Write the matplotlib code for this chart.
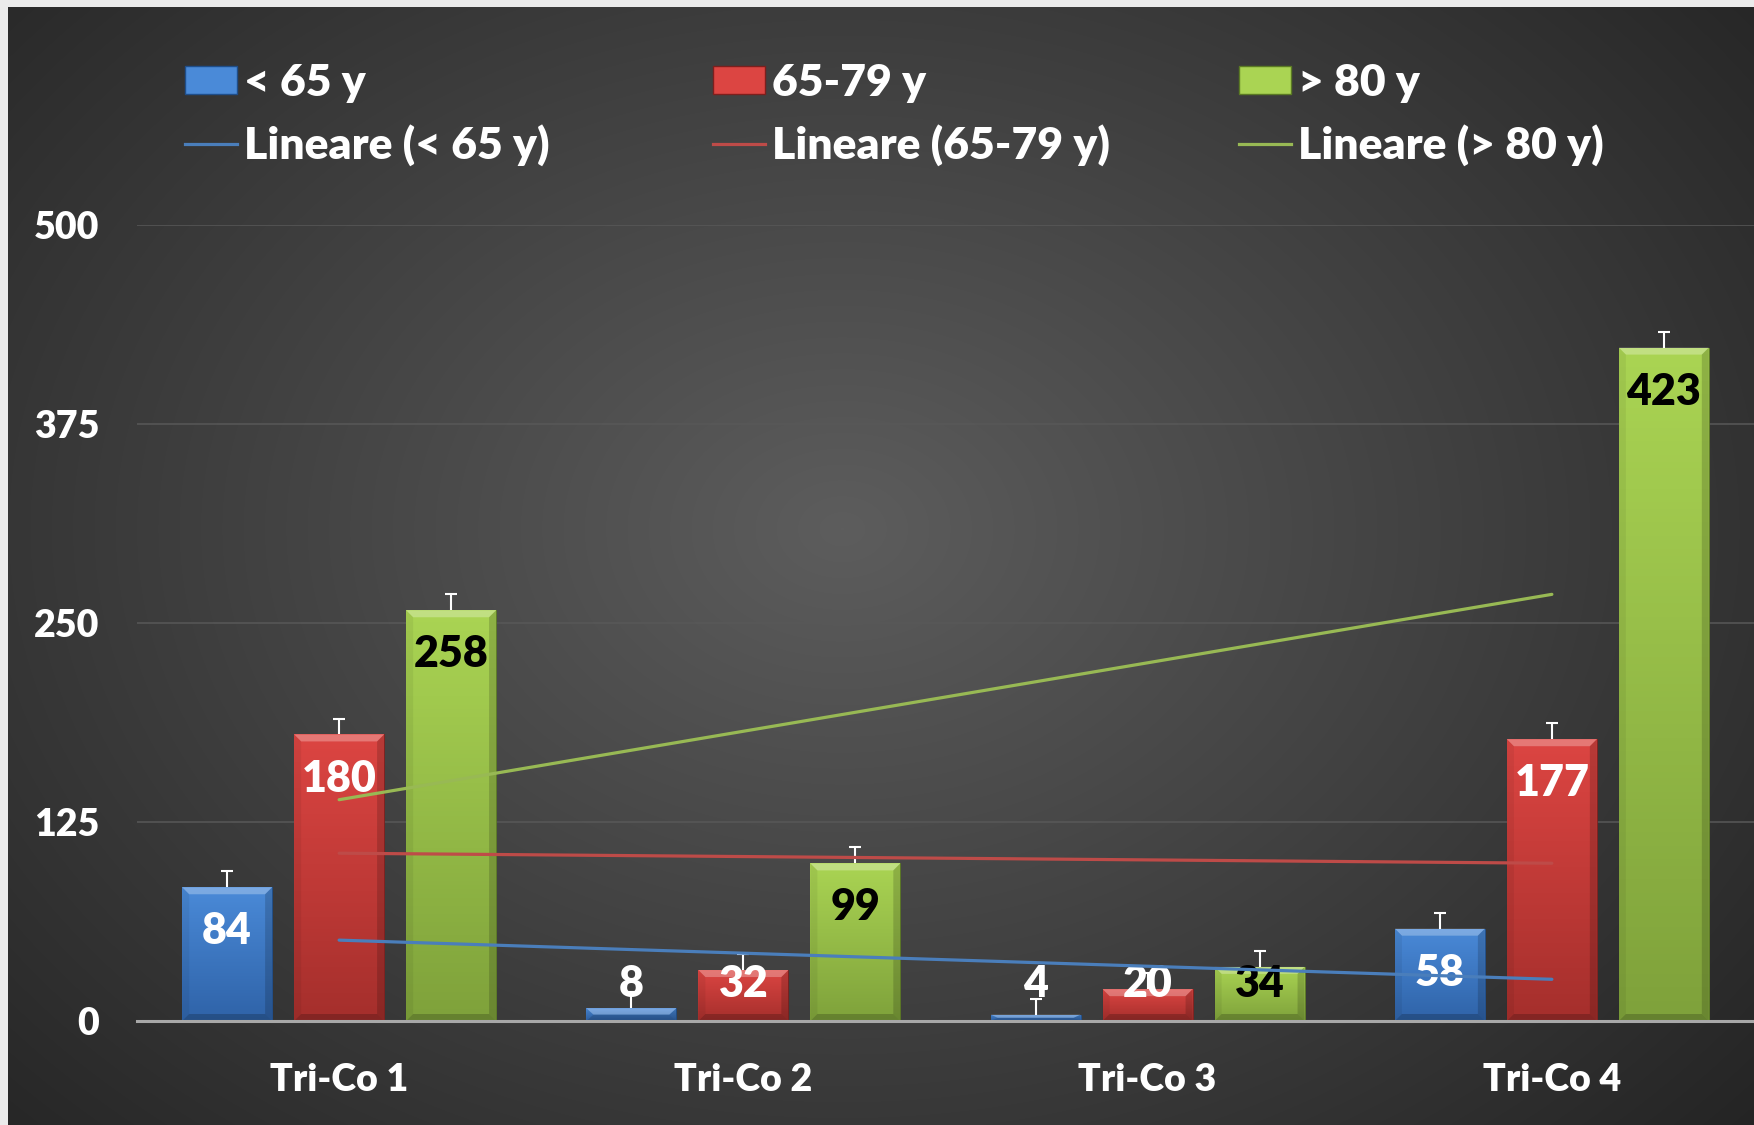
import numpy as np
import matplotlib
matplotlib.use("Agg")
import matplotlib.pyplot as plt
from matplotlib.patches import Patch, Polygon
from matplotlib.lines import Line2D
from matplotlib.colors import LinearSegmentedColormap

plt.rcParams["font.family"] = ["Lato", "DejaVu Sans"]
plt.rcParams["font.weight"] = "bold"

categories = ["Tri-Co 1", "Tri-Co 2", "Tri-Co 3", "Tri-Co 4"]
series_names = ["< 65 y", "65-79 y", "> 80 y"]
under_65 = [84, 8, 4, 58]
age_65_79 = [180, 32, 20, 177]
over_80 = [258, 99, 34, 423]
err_under_65 = [10, 10, 10, 10]
err_65_79 = [10, 10, 10, 10]
err_over_80 = [10, 10, 10, 10]
yticks = [0, 125, 250, 375, 500]

values = [under_65, age_65_79, over_80]
errors = [err_under_65, err_65_79, err_over_80]
top_cols = ["#4a8ad8", "#dc4542", "#aad453"]
bot_cols = ["#2f63a8", "#a52f2c", "#7fa23b"]
line_cols = ["#4a7ebb", "#be4b48", "#98b954"]
edge_cols = ["#1f4e8a", "#7d1f1d", "#5b7a24"]
label_cols = ["white", "white", "black"]

W, H = 1754, 1125
fig = plt.figure(figsize=(W / 100, H / 100), dpi=100)

# dark radial backdrop with the light page edge on the left and top
bg = fig.add_axes([0, 0, 1, 1], zorder=-10)
bg.axis("off")
yy, xx = np.mgrid[0:H, 0:W]
r = np.sqrt(((xx / W - 0.48) / 0.62) ** 2 + ((yy / H - 0.47) / 0.72) ** 2)
g = np.clip(0.365 - 0.2 * r, 0.145, 1)
img = np.dstack([g, g, g])
img[:, :8] = 0.925
img[:7, :] = 0.925
bg.imshow(img, extent=[0, 1, 0, 1], aspect="auto", interpolation="bilinear")
bg.set_xlim(0, 1)
bg.set_ylim(0, 1)

ax = fig.add_axes([137 / W, 104 / H, 1 - 137 / W, (1021 - 225) / H])
ax.set_facecolor("none")
ax.set_xlim(0.5, 4.5)
ax.set_ylim(0, 500)

x = np.arange(1, len(categories) + 1)
width = 0.2225
offsets = [-0.277, 0, 0.277]

px_x = ax.bbox.width / 4.0
px_y = ax.bbox.height / 500.0
bx, by = 7 / px_x, 7 / px_y

for i in range(3):
    bars = ax.bar(x + offsets[i], values[i], width, color=top_cols[i], zorder=2,
                  edgecolor=edge_cols[i], linewidth=0.6)
    cmap = LinearSegmentedColormap.from_list("b%d" % i, [bot_cols[i], top_cols[i]])
    for rect in bars:
        x0, w, h = rect.get_x(), rect.get_width(), rect.get_height()
        x1 = x0 + w
        grad = np.linspace(0, 1, 100).reshape(-1, 1)
        im = ax.imshow(grad, cmap=cmap, extent=[x0, x1, 0, h], origin="lower",
                       aspect="auto", zorder=2.1)
        im.set_clip_path(rect)
        b = min(by, h / 2)
        bev = [
            ([(x0, h), (x1, h), (x1 - bx, h - b), (x0 + bx, h - b)], "white", 0.28),
            ([(x0, 0), (x1, 0), (x1 - bx, b), (x0 + bx, b)], "black", 0.2),
            ([(x0, 0), (x0 + bx, b), (x0 + bx, h - b), (x0, h)], "black", 0.06),
            ([(x1, 0), (x1 - bx, b), (x1 - bx, h - b), (x1, h)], "black", 0.16),
        ]
        for pts, c, a in bev:
            ax.add_patch(Polygon(pts, closed=True, facecolor=c, alpha=a,
                                 edgecolor="none", zorder=2.2))
    eb = ax.errorbar(x + offsets[i], values[i], yerr=[np.zeros(4), errors[i]], fmt="none",
                     ecolor="white", elinewidth=1.5, capsize=4.5, capthick=1.5, zorder=2.5)
    # only the upper whisker carries a cap
    eb[1][0].set_visible(False)
    for xi, v in zip(x + offsets[i], values[i]):
        ax.text(xi, max(v - 27.7, 23.2), str(v), ha="center", va="center",
                color=label_cols[i], fontsize=31, fontweight="heavy", zorder=3)

# linear trend of each age group across the four groups
for i in range(3):
    coef = np.polyfit(x, values[i], 1)
    ax.plot(x, np.polyval(coef, x), color=line_cols[i], lw=2.3, zorder=4,
            solid_capstyle="round")

ax.set_yticks(yticks)
ax.set_xticks(x)
ax.set_xticklabels(categories)
ax.tick_params(axis="both", length=0, colors="white", labelsize=27)
ax.tick_params(axis="y", pad=27)
ax.tick_params(axis="x", pad=30)
for lab in ax.get_xticklabels() + ax.get_yticklabels():
    lab.set_fontweight("heavy")
ax.grid(axis="y", color="#585858", lw=1.1)
ax.set_axisbelow(True)
for s in ["left", "right", "top"]:
    ax.spines[s].set_visible(False)
ax.spines["bottom"].set_color("#a8a8a8")
ax.spines["bottom"].set_linewidth(2.2)
ax.spines["bottom"].set_zorder(2.6)

col_x = [185 / W, 713 / W, 1239 / W]
for i in range(3):
    handles = [Patch(facecolor=top_cols[i], edgecolor=edge_cols[i], linewidth=1),
               Line2D([], [], color=line_cols[i], lw=2.3)]
    labels = [series_names[i], "Lineare (%s)" % series_names[i]]
    fig.legend(handles, labels, loc="upper left", bbox_to_anchor=(col_x[i], 1 - 63 / H),
               frameon=False, labelcolor="white", handlelength=1.18, handleheight=0.58,
               handletextpad=0.14, labelspacing=0.47, borderpad=0, borderaxespad=0,
               prop={"weight": "heavy", "size": 32})

fig.savefig("out.png", dpi=100)
